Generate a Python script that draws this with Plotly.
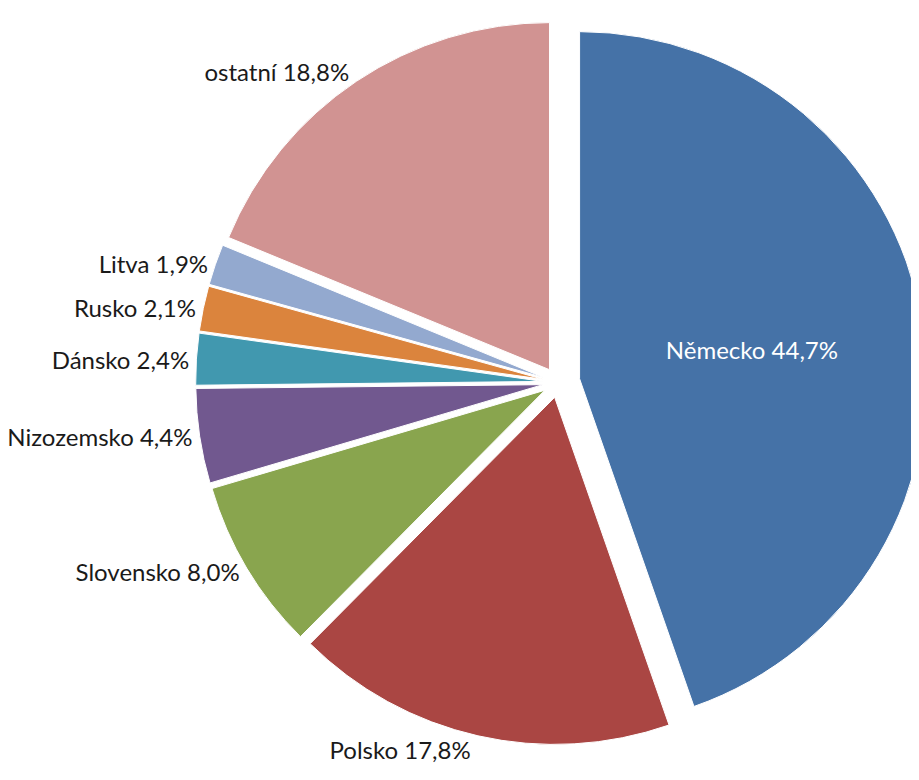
import plotly.graph_objects as go

countries = ["Německo", "Polsko", "Slovensko", "Nizozemsko", "Dánsko", "Rusko", "Litva", "ostatní"]
shares = [44.7, 17.8, 8.0, 4.4, 2.4, 2.1, 1.9, 18.8]
colors = ["#4572A7", "#AA4643", "#89A54E", "#71588F", "#4198AF", "#DB843D", "#93A9CF", "#D19392"]
pulls = [0.063, 0.044, 0.044, 0.044, 0.044, 0.044, 0.044, 0.044]

texts = [f"{c} {v:.1f}%".replace(".", ",") for c, v in zip(countries, shares)]
positions = ["inside"] + ["outside"] * (len(countries) - 1)

fig = go.Figure(go.Pie(
    labels=countries,
    values=shares,
    text=texts,
    textinfo="text",
    textposition=positions,
    insidetextorientation="horizontal",
    sort=False,
    direction="clockwise",
    rotation=0,
    pull=pulls,
    marker=dict(colors=colors, line=dict(color="white", width=1)),
    insidetextfont=dict(color="white", size=24, family="Lato"),
    outsidetextfont=dict(color="#1a1a1a", size=24, family="Lato"),
    automargin=False,
    domain=dict(x=[0.197, 1.0], y=[0.04, 1.0]),
    showlegend=False,
    hoverinfo="label+percent",
))

fig.update_layout(
    width=919,
    height=780,
    margin=dict(l=0, r=0, t=0, b=0),
    paper_bgcolor="white",
    plot_bgcolor="white",
    showlegend=False,
)

fig.write_html("out.html")
